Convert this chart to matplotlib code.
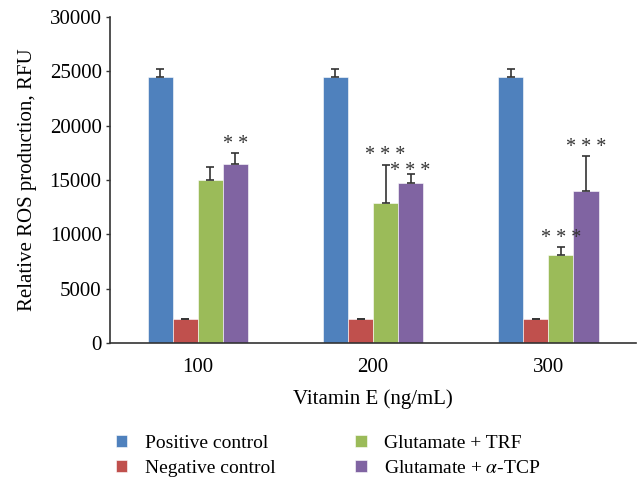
import matplotlib
matplotlib.use('Agg')
import matplotlib.pyplot as plt
import numpy as np

plt.rcParams['font.family'] = ['Liberation Serif', 'DejaVu Serif']
plt.rcParams['mathtext.fontset'] = 'stix'

# ------------------------------------------------------------
# Data
# ------------------------------------------------------------
doses = ['100', '200', '300']
series = ['Positive control', 'Negative control',
          'Glutamate + TRF', r'Glutamate + $\alpha$-TCP']
positive = [24500, 24500, 24500]
positive_err = [700, 700, 700]
negative = [2200, 2200, 2200]
negative_err = [50, 50, 50]
trf = [15000, 12900, 8070]
trf_err = [1150, 3440, 790]
tcp = [16450, 14700, 13950]
tcp_err = [1050, 890, 3280]
trf_stars = ['', '* * *', '* * *']
tcp_stars = ['* *', '* * *', '* * *']

colors = ['#4F81BD', '#C0504D', '#9BBB59', '#8064A2']
# small vertical nudges (points) for the star labels
trf_star_dy = [0, 1, 0]
tcp_star_dy = [0, -4, 0]

# ------------------------------------------------------------
fig = plt.figure(figsize=(6.38, 4.79), dpi=100)
ax = fig.add_axes([0.1724, 0.284, 0.8246, 0.6805])

x = np.arange(len(doses))
w = 0.143
offsets = [-1.5 * w, -0.5 * w, 0.5 * w, 1.5 * w]
values = [positive, negative, trf, tcp]
errors = [positive_err, negative_err, trf_err, tcp_err]

handles = []
for i in range(4):
    b = ax.bar(x + offsets[i], values[i], width=w, color=colors[i],
               edgecolor='white', linewidth=0.4,
               yerr=[np.zeros(3), errors[i]],
               error_kw=dict(ecolor='#333333', elinewidth=1.2,
                             capsize=3, capthick=1.2),
               label=series[i], zorder=2)
    handles.append(b)

# significance marks above error bars
for j in range(3):
    for i, stars, dy in ((2, trf_stars, trf_star_dy), (3, tcp_stars, tcp_star_dy)):
        if stars[j]:
            top = values[i][j] + errors[i][j]
            ax.annotate(stars[j], (x[j] + offsets[i], top),
                        xytext=(0, -1 + dy[j]), textcoords='offset points',
                        ha='center', va='bottom', fontsize=14.5,
                        color='#333333')

ax.set_xlim(-0.5, 2.5)
ax.set_ylim(0, 30000)
ax.set_yticks(np.arange(0, 30001, 5000))
ax.set_xticks(x)
ax.set_xticklabels(doses)
ax.tick_params(axis='y', length=3, width=1, color='#333333',
               labelsize=15, pad=3)
ax.tick_params(axis='x', length=0, labelsize=15, pad=11)

for s in ['top', 'right']:
    ax.spines[s].set_visible(False)
for s in ['left', 'bottom']:
    ax.spines[s].set_color('#333333')
    ax.spines[s].set_linewidth(1.2)

ax.set_ylabel('Relative ROS production, RFU', fontsize=15, labelpad=9)
ax.set_xlabel('Vitamin E (ng/mL)', fontsize=15, labelpad=8.5)

fig.legend(handles=handles, labels=series, ncol=2, loc='upper left',
           bbox_to_anchor=(0.16, 0.12), frameon=False, fontsize=14,
           handlelength=0.6, handleheight=0.6, handletextpad=0.9,
           columnspacing=4.1, labelspacing=0.4, borderpad=0.2)

fig.savefig('out.png', dpi=100)
